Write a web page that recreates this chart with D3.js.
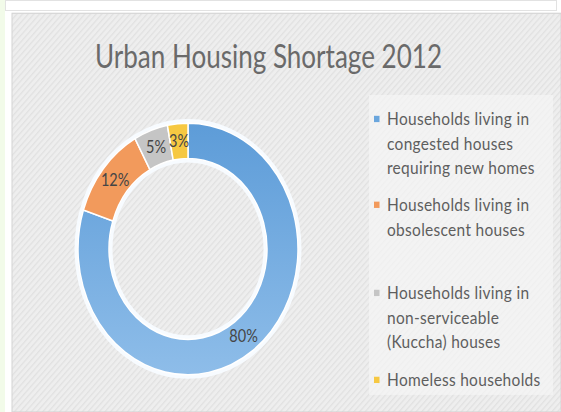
<!DOCTYPE html>
<html>
<head>
<meta charset="utf-8">
<script src="https://cdn.jsdelivr.net/npm/d3@7"></script>
<style>
  html, body { margin: 0; padding: 0; background: #ffffff; }
  svg { display: block; }
</style>
</head>
<body>
<svg id="chart" width="561" height="412"></svg>
<script>
// Urban housing shortage 2012 — share of shortage by household condition
const categories = [
  "Households living in congested houses requiring new homes",
  "Households living in obsolescent houses",
  "Households living in non-serviceable (Kuccha) houses",
  "Homeless households"
];
const values = [80, 12, 5, 3];
const legendLines = [
  ["Households living in", "congested houses", "requiring new homes"],
  ["Households living in", "obsolescent houses"],
  ["Households living in", "non-serviceable", "(Kuccha) houses"],
  ["Homeless households"]
];
const colors = ["#6aa6dd", "#f29a5c", "#c5c5c5", "#f6c842"];
const title = "Urban Housing Shortage 2012";

const W = 561, H = 412;
const SY = 1.1444;            // the whole drawing is laid out in a 561x360 frame, stretched vertically
const svg = d3.select("#chart");

const defs = svg.append("defs");
const pat = defs.append("pattern")
  .attr("id", "hatch")
  .attr("patternUnits", "userSpaceOnUse")
  .attr("width", 4).attr("height", 4)
  .attr("patternTransform", "rotate(45)");
pat.append("rect").attr("width", 4).attr("height", 4).attr("fill", "#eeeeee");
pat.append("rect").attr("width", 1.2).attr("height", 4).attr("fill", "#e1e1e1");

const blueGrad = defs.append("linearGradient")
  .attr("id", "blueGrad").attr("x1", 0).attr("y1", 0).attr("x2", 0).attr("y2", 1);
blueGrad.append("stop").attr("offset", "0%").attr("stop-color", "#5d9cd8");
blueGrad.append("stop").attr("offset", "100%").attr("stop-color", "#8ebde9");

// page frame pieces
svg.append("rect").attr("x", 0).attr("y", 0).attr("width", 5).attr("height", H).attr("fill", "#f2fbe9");
svg.append("rect").attr("x", 5.5).attr("y", 0.5).attr("width", 551).attr("height", 10)
  .attr("fill", "#ffffff").attr("stroke", "#e2e2e2");

const root = svg.append("g").attr("transform", `scale(1,${SY})`);
const FH = H / SY;

// chart area
root.append("rect")
  .attr("x", 12).attr("y", 11.6).attr("width", W - 12).attr("height", FH - 11.6)
  .attr("fill", "url(#hatch)").attr("stroke", "#d4d4d4").attr("stroke-width", 1);

// title
root.append("text")
  .attr("x", 268.5).attr("y", 59.4)
  .attr("text-anchor", "middle")
  .attr("font-family", "Lato, 'Open Sans', sans-serif")
  .attr("font-size", 29)
  .attr("fill", "#6a6a6a")
  .attr("textLength", 347).attr("lengthAdjust", "spacingAndGlyphs")
  .text(title);

// donut
const cx = 188, cy = 217.5, rOuter = 110, rInner = 79;
const pie = d3.pie().sort(null).value(d => d)(values);
const arc = d3.arc().innerRadius(rInner).outerRadius(rOuter);
const donut = root.append("g").attr("transform", `translate(${cx},${cy})`);

donut.append("circle").attr("r", rOuter + 2).attr("fill", "none")
  .attr("stroke", "#f7fbff").attr("stroke-width", 3);
donut.append("circle").attr("r", rInner - 2).attr("fill", "none")
  .attr("stroke", "#f7fbff").attr("stroke-width", 3);

donut.selectAll("path.slice")
  .data(pie)
  .join("path")
  .attr("class", "slice")
  .attr("d", arc)
  .attr("fill", (d, i) => i === 0 ? "url(#blueGrad)" : colors[i])
  .attr("stroke", "#ffffff")
  .attr("stroke-width", 1.5);

donut.selectAll("text.lbl")
  .data(pie)
  .join("text")
  .attr("class", "lbl")
  .attr("transform", d => `translate(${arc.centroid(d)})`)
  .attr("text-anchor", "middle")
  .attr("dy", "0.36em")
  .attr("font-family", "Lato, 'Open Sans', sans-serif")
  .attr("font-size", 14.5)
  .attr("fill", "#454545")
  .text(d => Math.round(d.data) + "%");

// legend
const legend = root.append("g");
legend.append("rect")
  .attr("x", 369).attr("y", 83).attr("width", 184).attr("height", 262)
  .attr("fill", "#f5f5f5").attr("opacity", 0.7);

const itemTop = [104, 179, 256, 332];   // first-line centre of each entry
const lineGap = 21.3;
categories.forEach((c, i) => {
  const g = legend.append("g").attr("transform", `translate(0,${itemTop[i]})`);
  g.append("rect").attr("x", 374).attr("y", -2.8).attr("width", 5.5).attr("height", 5.5)
    .attr("fill", colors[i]);
  g.append("text")
    .attr("font-family", "Lato, 'Open Sans', sans-serif")
    .attr("font-size", 15.5)
    .attr("letter-spacing", 0.3)
    .attr("fill", "#5e5e5e")
    .selectAll("tspan")
    .data(legendLines[i])
    .join("tspan")
    .attr("x", 387)
    .attr("y", (d, k) => k * lineGap)
    .attr("dy", "0.36em")
    .text(d => d);
});
</script>
</body>
</html>
